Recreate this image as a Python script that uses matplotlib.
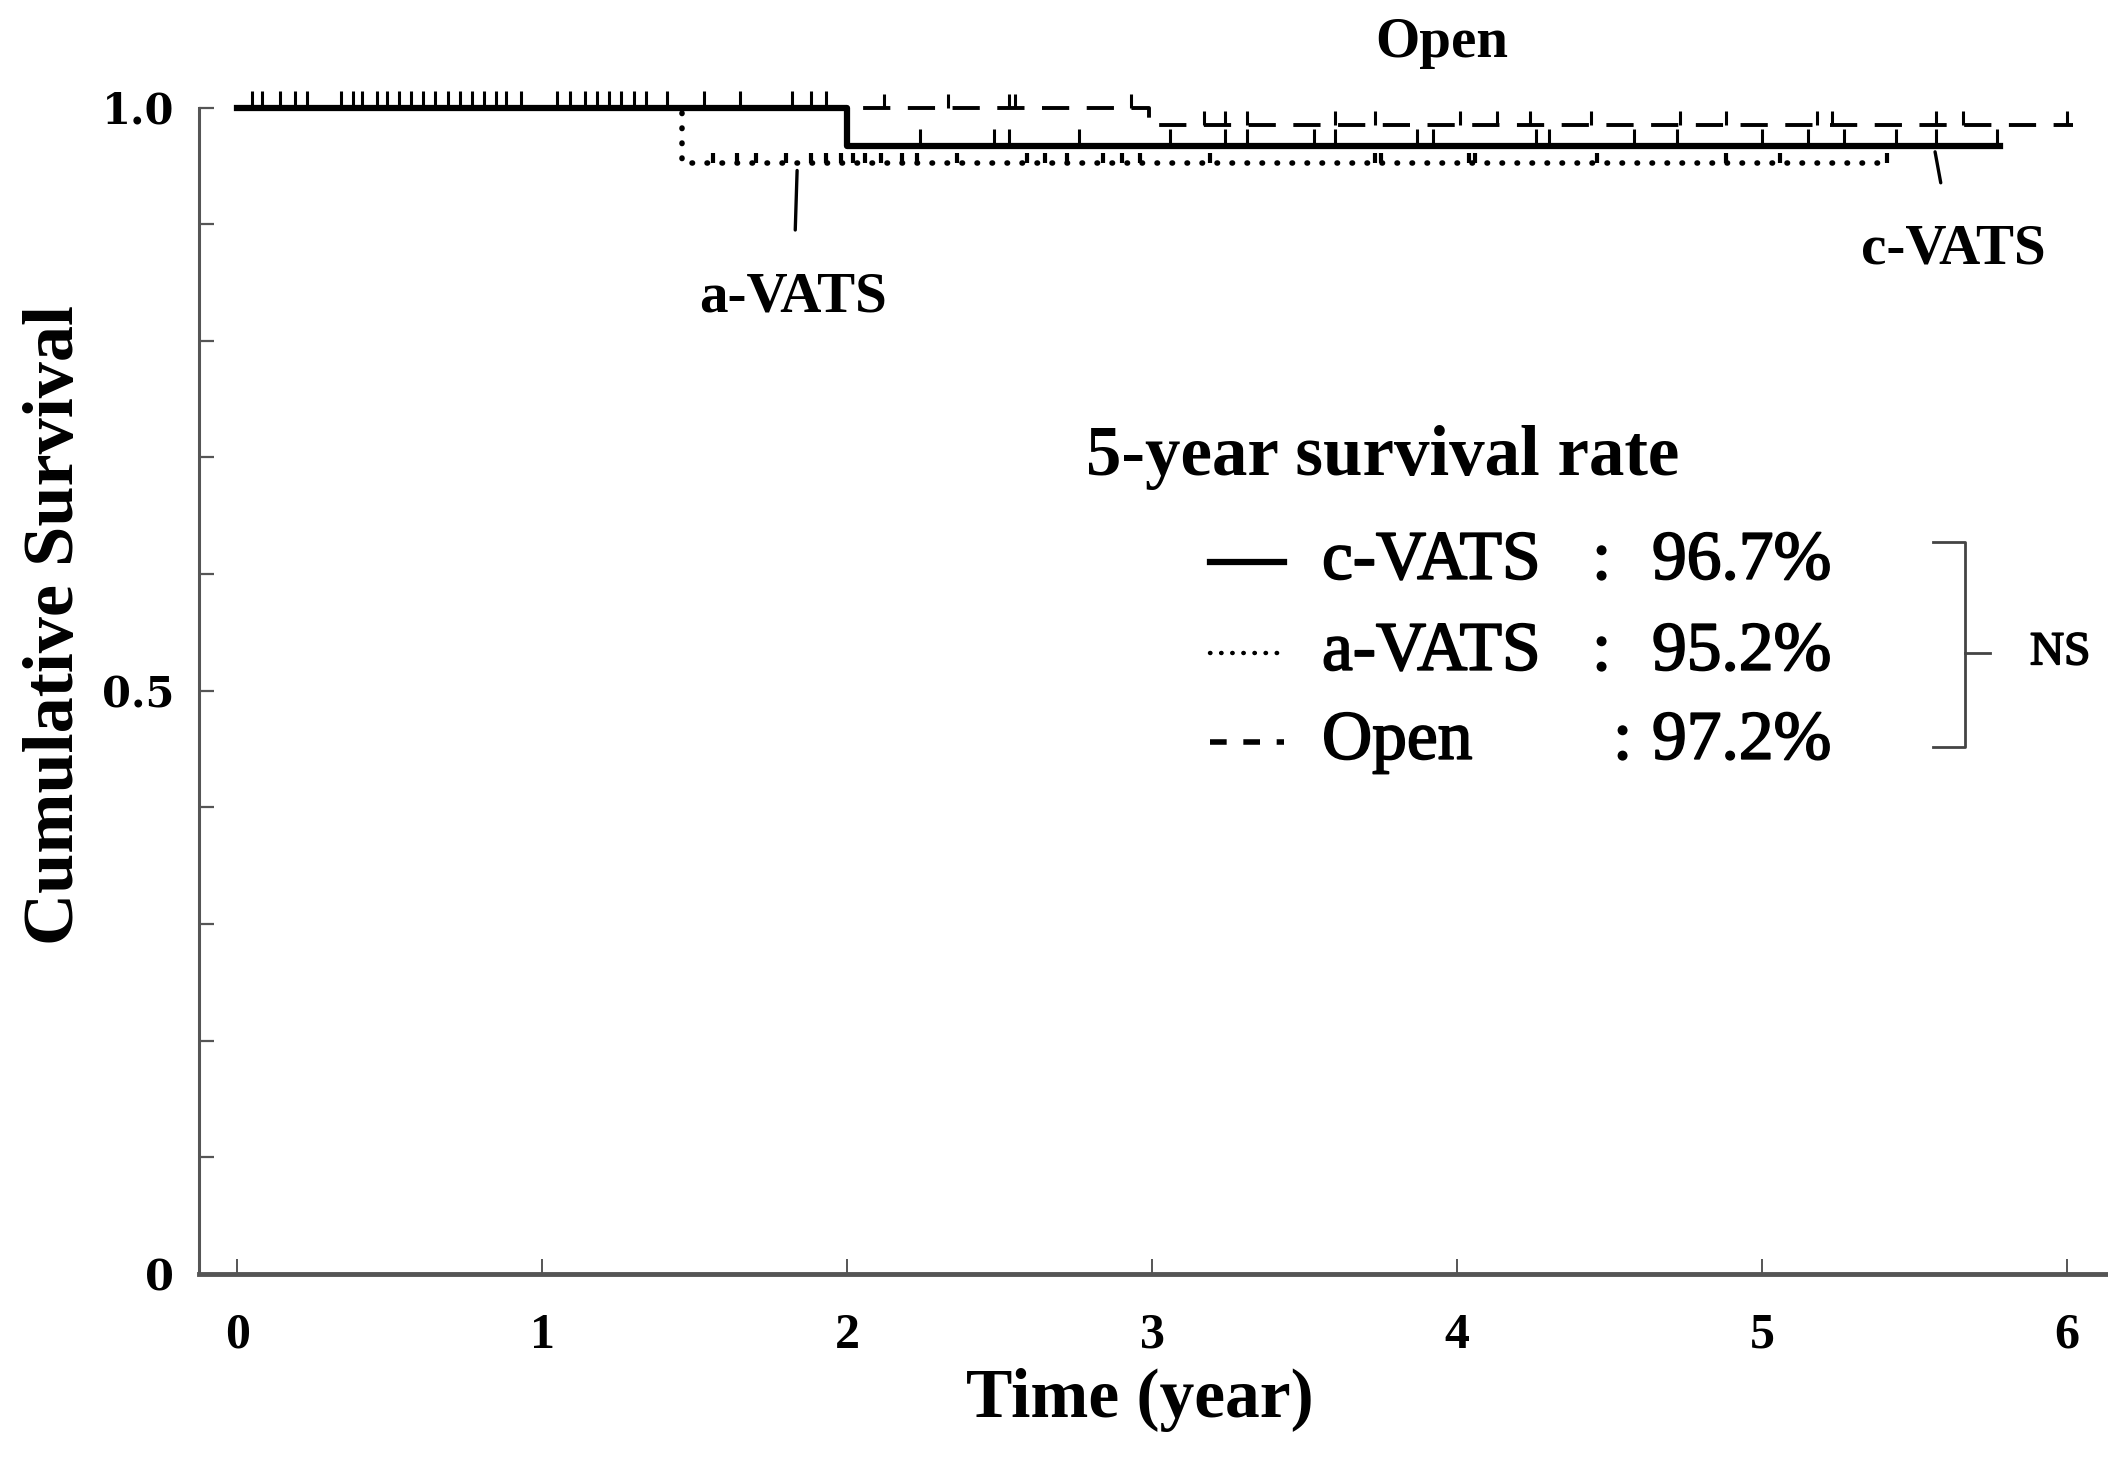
import numpy as np
import matplotlib.pyplot as plt
import matplotlib.patheffects as pe
from matplotlib.lines import Line2D

W, H = 2108, 1462

# Kaplan-Meier steps: times of events, survival level before/after each event
cvats_drops = [2.0]
cvats_levels = [1.0, 0.967]
cvats_end = 5.78
avats_drops = [1.46]
avats_levels = [1.0, 0.952]
avats_end = 5.42
open_drops = [2.99]
open_levels = [1.0, 0.985]
open_end = 6.02

# censored observations (years)
cvats_censor = [0.05, 0.08, 0.14, 0.19, 0.23, 0.34, 0.38, 0.41, 0.46, 0.49, 0.53,
                0.57, 0.61, 0.65, 0.69, 0.73, 0.77, 0.81, 0.85, 0.88, 0.93, 1.05,
                1.09, 1.14, 1.18, 1.22, 1.26, 1.30, 1.34, 1.41, 1.53, 1.65, 1.82,
                1.88, 1.93, 2.24, 2.48, 2.53, 2.76, 3.06, 3.24, 3.31, 3.53, 3.60,
                3.87, 3.92, 4.26, 4.30, 4.58, 4.72, 5.00, 5.15, 5.27, 5.44, 5.57, 5.77]
avats_censor = [1.56, 1.64, 1.70, 1.80, 1.88, 1.93, 1.98, 2.02, 2.06, 2.11, 2.18,
                2.23, 2.36, 2.59, 2.65, 2.72, 2.84, 2.90, 2.96, 3.19, 3.73, 3.75,
                4.04, 4.06, 4.46, 4.88, 5.06, 5.41]
open_censor = [2.12, 2.33, 2.53, 2.55, 2.93, 3.17, 3.24, 3.31, 3.60, 3.73, 4.01,
               4.13, 4.24, 4.44, 4.73, 4.88, 5.18, 5.23, 5.57, 5.66, 6.0]

groups = ['c-VATS', 'a-VATS', 'Open']
rates = ['96.7%', '95.2%', '97.2%']

serif = 'Liberation Serif'
heavy = [pe.withStroke(linewidth=1.3, foreground='black')]


def level_at(t, drops, levels):
    idx = np.searchsorted(drops, t, side='right')
    return np.asarray(levels)[idx]


def px(x, y):
    # figure pixel (from top-left) -> figure fraction
    return x / W, 1 - y / H


fig = plt.figure(figsize=(W / 100, H / 100), dpi=100)
ax = fig.add_axes([199 / W, 188 / H, 1 - 199 / W, (1274 - 107.5) / H])
ax.set_xlim(-0.125, 6.134)
ax.set_ylim(0, 1.0)

styles = {
    'c-VATS': dict(color='black', lw=4.5, ls='-'),
    'a-VATS': dict(color='black', lw=4.0, ls=(0, (0.1, 2.6)), dash_capstyle='round'),
    'Open': dict(color='black', lw=2.8, ls=(0, (7.0, 4.5))),
}
curves = {
    'c-VATS': (cvats_drops, cvats_levels, cvats_end, cvats_censor, 12, 2.2),
    'a-VATS': (avats_drops, avats_levels, avats_end, avats_censor, 7, 3.0),
    'Open': (open_drops, open_levels, open_end, open_censor, 10, 2.2),
}

for name in ['a-VATS', 'Open', 'c-VATS']:
    drops, levels, end, cens, msize, mew = curves[name]
    xs = [0] + drops + [end]
    ys = levels + [levels[-1]]
    ax.step(xs, ys, where='post', clip_on=False, **styles[name])
    ax.plot(cens, level_at(np.array(cens), drops, levels), linestyle='none',
            marker=2, markersize=msize, markeredgewidth=mew, color='black',
            clip_on=False)

# curve labels
ax.text(3.95, 1.055, 'Open', family=serif, weight='bold', fontsize=41,
        ha='center', va='center')
ax.annotate('a-VATS', xy=(1.836, 0.946), xytext=(1.823, 0.837),
            family=serif, weight='bold', fontsize=41, ha='center', va='center',
            arrowprops=dict(arrowstyle='-', lw=2.4, color='black',
                            shrinkA=28, shrinkB=0))
ax.annotate('c-VATS', xy=(5.567, 0.962), xytext=(5.626, 0.878),
            family=serif, weight='bold', fontsize=41, ha='center', va='center',
            arrowprops=dict(arrowstyle='-', lw=2.4, color='black',
                            shrinkA=28, shrinkB=0))

# axes styling
for s in ['top', 'right']:
    ax.spines[s].set_visible(False)
ax.spines['left'].set_color('#555555')
ax.spines['left'].set_linewidth(2.2)
ax.spines['bottom'].set_color('#555555')
ax.spines['bottom'].set_linewidth(3.5)
ax.set_xticks(range(7))
ax.set_yticks(np.arange(0, 1.01, 0.1))
ax.set_yticklabels(['0', '', '', '', '', '0.5', '', '', '', '', '1.0'])
ax.tick_params(axis='y', direction='in', length=11, width=1.6, color='#555555',
               pad=18)
ax.tick_params(axis='x', direction='in', length=11, width=1.4, color='#555555',
               pad=28)
for lab in ax.get_yticklabels():
    lab.set_family('DejaVu Serif')
    lab.set_weight('bold')
    lab.set_fontsize(30)
for lab in ax.get_xticklabels():
    lab.set_family(serif)
    lab.set_weight('bold')
    lab.set_fontsize(36)

fig.text(*px(1140, 1400), 'Time (year)', family=serif, weight='bold',
         fontsize=50, ha='center', va='center')
fig.text(*px(56, 625), 'Cumulative Survival', family=serif, weight='bold',
         fontsize=52, ha='center', va='center', rotation=90)

# 5-year survival legend
fig.text(*px(1086, 457), '5-year survival rate', family=serif, weight='bold',
         fontsize=51, ha='left', va='center')
row_y = [562, 653, 742]
colon_x = [1592, 1592, 1613]
for name, rate, y, cx in zip(groups, rates, row_y, colon_x):
    st = dict(styles[name])
    if name == 'Open':
        st['ls'] = (0, (3.0, 3.0))
        st['lw'] = 4.0
    if name == 'a-VATS':
        st['lw'] = 3.2
        st['ls'] = (0, (0.1, 2.4))
    x0, y0 = px(1210, y)
    x1, _ = px(1284, y)
    fig.add_artist(Line2D([x0, x1], [y0, y0], transform=fig.transFigure, **st))
    for tx, s in [(1322, name), (cx, ':'), (1652, rate)]:
        fig.text(*px(tx, y), s, family=serif, fontsize=50, ha='left',
                 va='center', path_effects=heavy)

# NS bracket
bx = 1965
br = [px(1933, 542), px(bx, 542), px(bx, 747), px(1933, 747)]
fig.add_artist(Line2D([p[0] for p in br], [p[1] for p in br],
                      transform=fig.transFigure, color='#444444', lw=2.0))
m0, m1 = px(bx, 653), px(1990, 653)
fig.add_artist(Line2D([m0[0], m1[0]], [m0[1], m1[1]], transform=fig.transFigure,
                      color='#444444', lw=2.0))
fig.text(*px(2030, 653), 'NS', family=serif, fontsize=34, ha='left', va='center',
         path_effects=heavy)

fig.savefig('out.png', dpi=100, facecolor='white')
